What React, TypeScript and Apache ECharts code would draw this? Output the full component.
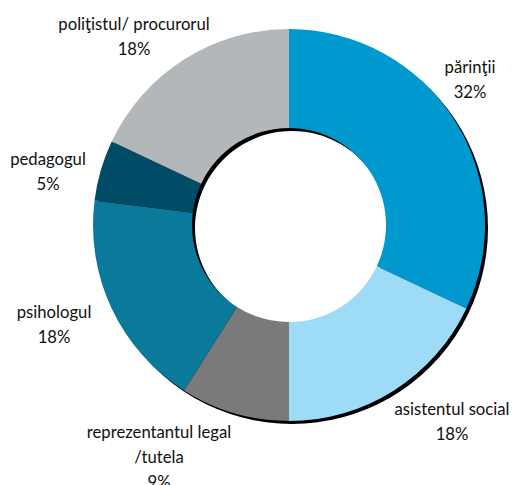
import React, { useEffect, useRef } from "react";
import * as echarts from "echarts";

const categories = [
  "părinţii",
  "asistentul social",
  "reprezentantul legal\n/tutela",
  "psihologul",
  "pedagogul",
  "poliţistul/ procurorul",
];
const values = [32, 18, 9, 18, 5, 18];
const colors = ["#0099CF", "#9DDBF7", "#7A7A7C", "#0B7A9A", "#004B66", "#B4B7BA"];
// label anchor points (layout, in px)
const labelPos: [number, number][] = [
  [470, 79],
  [452, 421],
  [159, 457],
  [54, 324],
  [48, 171],
  [134, 36],
];

export default function App() {
  const ref = useRef<HTMLDivElement>(null);
  useEffect(() => {
    document.body.style.margin = "0";
    const chart = echarts.init(ref.current!, undefined, { renderer: "svg" });
    const cx = 289, cy = 225, r = 196, r0 = 97;
    chart.setOption({
      animation: false,
      backgroundColor: "#ffffff",
      graphic: [
        {
          type: "ring",
          silent: true,
          z: 0,
          shape: { cx: cx + 3, cy: cy + 3, r: r, r0: r0 },
          style: { fill: "#000000" },
        },
      ],
      series: [
        {
          type: "pie",
          z: 5,
          center: [cx, cy],
          radius: [r0, r],
          startAngle: 90,
          clockwise: true,
          avoidLabelOverlap: false,
          itemStyle: { borderWidth: 0 },
          label: {
            show: true,
            position: "outside",
            formatter: "{b}\n{c}%",
            fontFamily: "Lato, 'Open Sans', sans-serif",
            fontSize: 16.7,
            lineHeight: 25,
            color: "#111111",
            align: "center",
          },
          labelLine: { show: false },
          labelLayout: (p: any) => ({
            x: labelPos[p.dataIndex][0],
            y: labelPos[p.dataIndex][1],
            align: "center",
            verticalAlign: "middle",
          }),
          data: categories.map((n, i) => ({
            name: n,
            value: values[i],
            itemStyle: { color: colors[i] },
          })),
        },
      ],
    });
    return () => chart.dispose();
  }, []);
  return <div ref={ref} style={{ width: 514, height: 485 }} />;
}
